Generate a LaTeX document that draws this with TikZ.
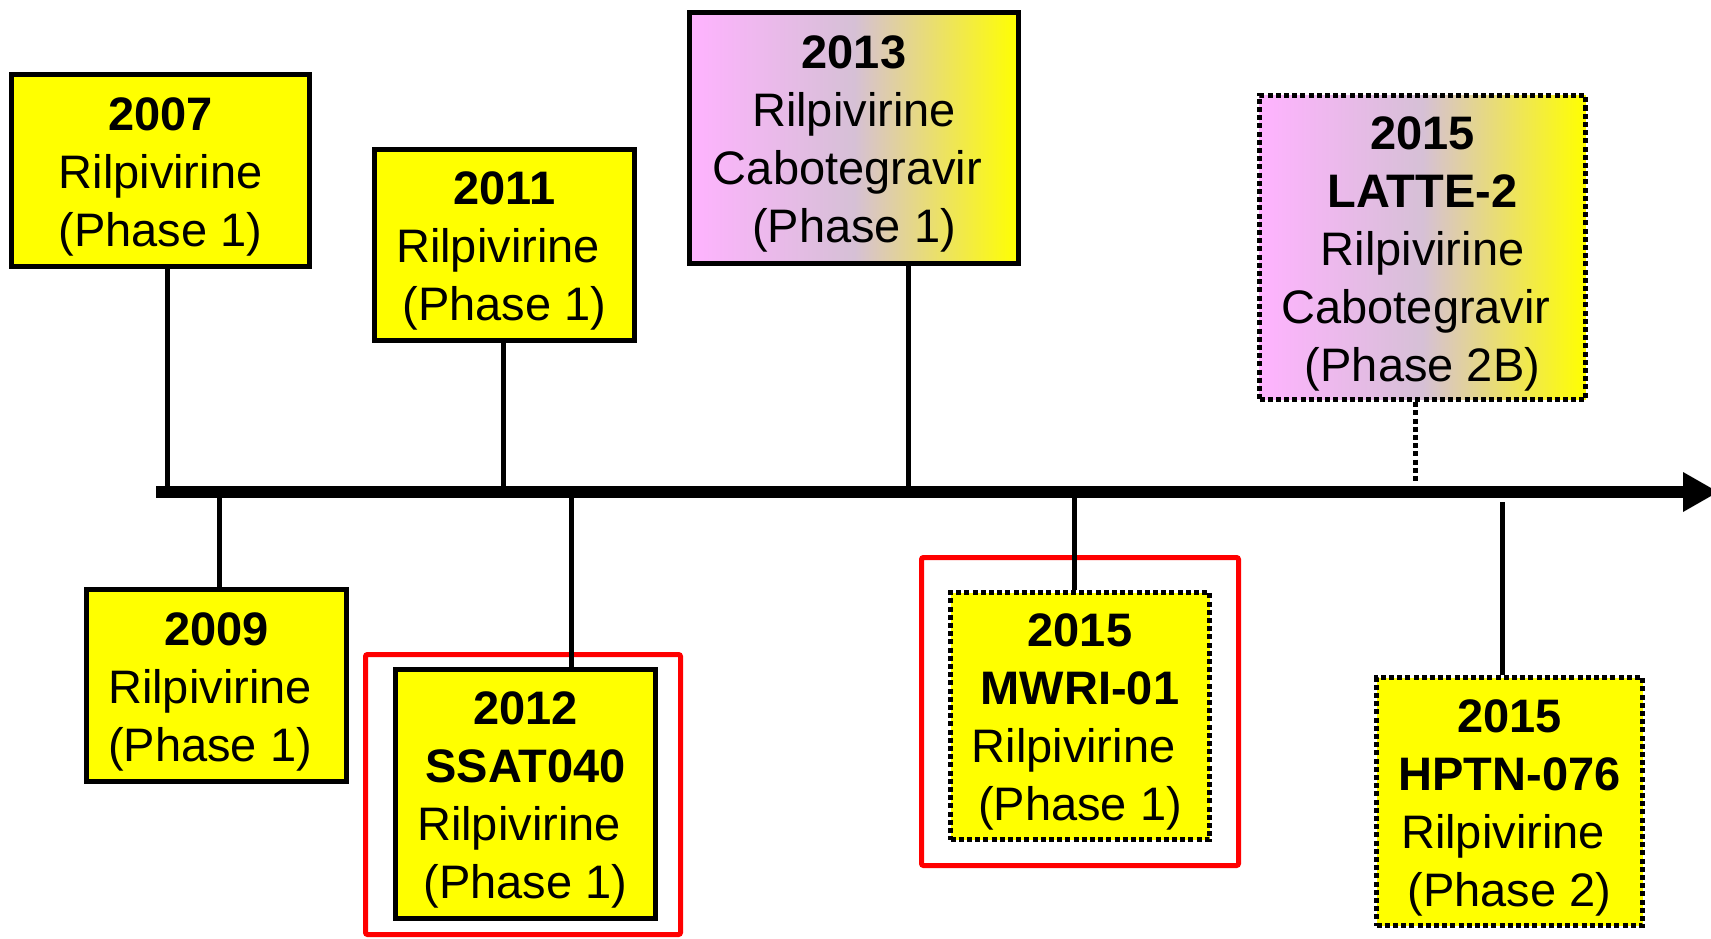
\documentclass[tikz,border=0pt]{standalone}
\usepackage{fontspec}
\setmainfont{Liberation Sans}
\definecolor{pk}{RGB}{255,179,255}
\definecolor{gm}{RGB}{214,192,214}
\definecolor{yl}{RGB}{255,255,0}
\newcommand\tsh{\rule{0pt}{45.6pt}}
\newcommand\tsp{\kern13pt}
\pgfdeclarelayer{background}
\pgfsetlayers{background,main}
\begin{document}
\begin{tikzpicture}[x=1pt,y=-1pt,
  box/.style={draw=black, line width=5.4pt, fill=yl, inner sep=0pt, align=center,
              font=\fontsize{47}{58}\selectfont},
  dbox/.style={box, line width=5.2pt, dash pattern=on 5pt off 3.2pt},
  grad/.style={left color=pk, right color=yl, middle color=gm},
  conn/.style={line width=5pt},
  dconn/.style={line width=5pt, dash pattern=on 5pt off 3.2pt},
  redbox/.style={draw=red, line width=5pt, rounded corners=2pt, inner sep=0pt},
]
\useasboundingbox (0,0) rectangle (1711,939);

% boxes
\node[box, minimum width=298, minimum height=192] (b07) at (160.5,170.5)
  {\tsh\textbf{2007}\\Rilpivirine\\(Phase 1)};
\node[box, minimum width=260, minimum height=192] (b09) at (216.5,685.5)
  {\tsh\textbf{2009}\\Rilpivirine\tsp\\(Phase 1)\tsp};
\node[box, minimum width=260, minimum height=191] (b11) at (504.5,245)
  {\tsh\textbf{2011}\\Rilpivirine\tsp\\(Phase 1)};
\node[box, minimum width=260, minimum height=249] (b12) at (525.5,794)
  {\tsh\textbf{2012}\\\textbf{SSAT040}\\Rilpivirine\tsp\\(Phase 1)};
\node[box, grad, minimum width=329, minimum height=251] (b13) at (854,138)
  {\tsh\textbf{2013}\\Rilpivirine\\Cabotegravir\tsp\\(Phase 1)};
\node[dbox, minimum width=259, minimum height=247] (bmw) at (1080,716)
  {\tsh\textbf{2015}\\\textbf{MWRI-01}\\Rilpivirine\tsp\\(Phase 1)};
\node[dbox, grad, minimum width=326, minimum height=304] (blat) at (1422.5,247.5)
  {\tsh\textbf{2015}\\\textbf{LATTE-2}\\Rilpivirine\\Cabotegravir\tsp\\(Phase 2B)};
\node[dbox, minimum width=266, minimum height=248] (bhp) at (1509.5,801.5)
  {\tsh\textbf{2015}\\\textbf{HPTN-076}\\Rilpivirine\tsp\\(Phase 2)};

% axis points
\coordinate (t07) at (167,492);
\coordinate (t11) at (503,492);
\coordinate (t13) at (908,492);
\coordinate (tlat) at (1415,484);
\coordinate (t09) at (219,492);
\coordinate (t12) at (571,492);
\coordinate (tmw) at (1074,492);
\coordinate (thp) at (1502,502);

\begin{pgfonlayer}{background}
% red highlight frames
\node[redbox, minimum width=315, minimum height=280] (r12) at (523,794.5) {};
\node[redbox, minimum width=317, minimum height=308] (rmw) at (1080,711.5) {};
% connectors
\draw[conn] (t07 |- b07.south) -- (t07);
\draw[conn] (t11 |- b11.south) -- (t11);
\draw[conn] (t13 |- b13.south) -- (t13);
\draw[dconn] (tlat |- blat.south) -- (tlat);
\draw[conn] (t09) -- (t09 |- b09.north);
\draw[conn] (t12) -- (t12 |- b12.north);
\draw[conn] (tmw) -- (tmw |- bmw.north);
\draw[conn] (thp) -- (thp |- bhp.north);
\end{pgfonlayer}

% timeline axis
\coordinate (ax0) at (156,492);
\coordinate (ax1) at (1684,492);
\coordinate (hb1) at (1683,472);
\coordinate (hb2) at (1683,512);
\coordinate (htip) at (1718,492);
\draw[line width=12.5pt] (ax0) -- (ax1);
\fill (hb1) -- (htip) -- (hb2) -- cycle;
\end{tikzpicture}
\end{document}
